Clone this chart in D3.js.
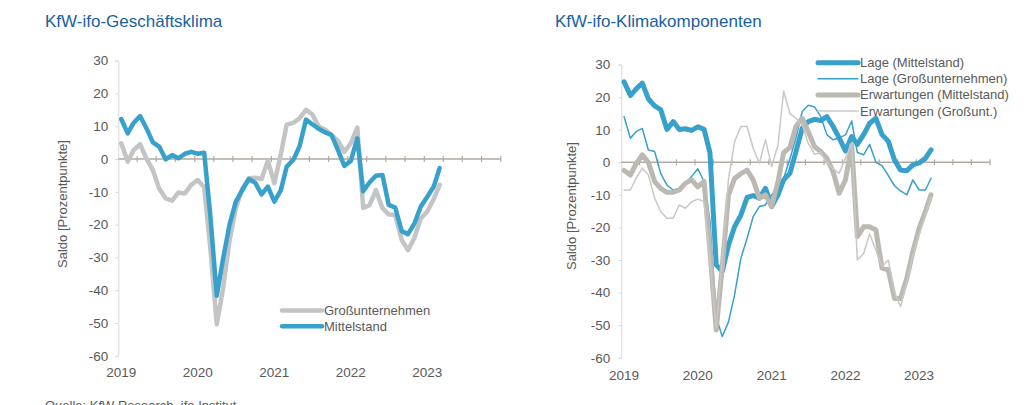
<!DOCTYPE html>
<html><head><meta charset="utf-8">
<script src="https://cdn.jsdelivr.net/npm/d3@7"></script>
<style>
html,body{margin:0;padding:0;background:#fff;}
svg{display:block;font-family:"Liberation Sans",Arial,sans-serif;}
</style></head>
<body>
<svg id="c" width="1024" height="405"></svg>
<script>
// ---------- Data (monthly, Jan 2019 – Mar 2023) ----------
const startYear = 2019, nMonths = 51;
const yTicks = [30, 20, 10, 0, -10, -20, -30, -40, -50, -60];
const yearLabels = ["2019", "2020", "2021", "2022", "2023"];

// Left chart: KfW-ifo-Geschäftsklima
const klimaGross = [4.8,-0.8,2.7,4.5,0.2,-3.4,-9,-12,-12.7,-10.2,-10.5,-7.9,-6.4,-8.6,-27,-50.4,-39.5,-25,-15,-9,-5.9,-5.7,-6.1,-0.5,-7.4,1.5,10.5,11,12.4,15,13.6,9.9,8.9,7.3,5.5,2.2,4.8,9.6,-14.9,-14,-9.5,-15,-16.9,-17.1,-24.7,-27.8,-24,-18.1,-16,-12.2,-7.9];
const klimaMittel = [12.2,7.8,11,13.1,9.4,5.1,3.8,-0.1,1.2,0.2,1.6,2.2,1.6,1.9,-17,-41.7,-30.5,-20,-13,-9.5,-6.1,-7.2,-10.8,-8.4,-13,-9.5,-2.3,-0.3,3.8,12,10.6,9.2,8.1,7.3,2.7,-2.1,-0.6,6.3,-9.8,-7.1,-5.1,-4.9,-14,-14.8,-22,-22.9,-19.6,-14.5,-11.5,-8.4,-2.8];

// Right chart: KfW-ifo-Klimakomponenten
const lageMittel = [24.7,20.5,22.5,24.3,19.5,17.3,16.2,10.1,12.5,10.1,10.3,9.8,10.9,10.1,3,-31.5,-33.5,-25.4,-19.8,-16.2,-10.8,-10.2,-11,-8,-13.6,-10,-5.4,-3.4,3.3,10.5,12.5,13.2,12.8,14,11,7.5,3.5,7.9,5.5,8.5,12,13.5,8.5,6.5,0.7,-2.4,-2.6,-0.8,-0.2,1.2,3.8];
const lageGross = [14,7.4,9.4,10.4,3.8,3.3,-3.4,-7,-8.5,-8,-6.4,-4.4,-2,-5.9,-18,-47.5,-53.5,-49,-40.7,-29.5,-23.3,-16.7,-13.6,-13.1,-10,-7.5,-4.9,1,7.5,15.6,17.5,17,14,8.5,6.9,7.5,8.4,12.7,3,2.3,5.5,0,-1,-4,-7.2,-8.8,-10,-5.4,-8.5,-8.5,-4.9];
const erwMittel = [-2.5,-3.9,-0.5,2.3,0,-5.9,-8,-9.2,-9.2,-8.5,-6.4,-5.4,-7.5,-5.9,-27,-51.5,-32,-10,-5,-3.5,-2.4,-5.4,-11,-10,-13.6,-5.9,3,4.5,11,13.5,9.4,4.8,3.3,1.2,-2.9,-9.5,-5.4,5.3,-22.8,-19.8,-19.8,-20.8,-32.5,-33,-41.8,-41.8,-35.6,-27.4,-20.3,-15.1,-10];
const erwGross = [-8.5,-8.5,-4.9,-1.8,-3.9,-11,-15.1,-17.2,-17.2,-13.1,-14.1,-12.1,-11.3,-12.1,-30,-51,-30,-5,6.3,11,11,4.3,-0.3,6.9,-1.3,5.3,21.9,15,13.5,11.5,5.8,2.5,3,0,-2,-3.4,1.2,5.8,-30,-28,-22,-27,-32,-30,-40,-44.3,-36.6,-28.5,-22.3,-16.2,-10.5];

const months = d3.range(nMonths).map(i => new Date(startYear, i, 15));

// ---------- Styles ----------
const BLUE = "#37a0cb", GRAY_L = "#c2c4c6", GRAY_W = "#bcb8b2", GRAY_T = "#c8c8c8";
const TXT = "#595959", TITLE = "#1a5fa0";

const svg = d3.select("#c");
svg.append("rect").attr("width",1024).attr("height",405).attr("fill","#fff");

function drawChart(o) {
  const x = d3.scaleTime()
    .domain([new Date(startYear,0,1), new Date(startYear+5,0,1)])
    .range([o.x0, o.x1]);
  const y = d3.scaleLinear().domain([-60, 30]).range([o.yBottom, o.yTop]);
  const g = svg.append("g");

  // title
  g.append("text").attr("x", o.titleX).attr("y", 27)
    .attr("font-size", 17).attr("fill", TITLE).text(o.title);

  // y axis
  const ya = g.append("g").attr("transform", `translate(${o.x0},0)`)
    .call(d3.axisLeft(y).tickValues(yTicks).tickSize(3).tickPadding(o.tickPad).tickFormat(d3.format("d")));
  ya.select(".domain").attr("stroke", "#d9d9d9").attr("stroke-width", 1);
  ya.selectAll(".tick line").attr("stroke", "#d9d9d9");
  ya.selectAll(".tick text").attr("fill", TXT).attr("font-size", 13.5)
    .attr("font-family", '"Liberation Sans",Arial,sans-serif');
  // replace minus sign with hyphen like the reference
  ya.selectAll(".tick text").text(d => String(d));

  // y label
  g.append("text")
    .attr("transform", `translate(${o.yLabelX},${o.yLabelY}) rotate(-90)`)
    .attr("text-anchor", "middle").attr("font-size", 13).attr("fill", TXT)
    .text("Saldo [Prozentpunkte]");

  // zero line with quarterly ticks
  g.append("line").attr("x1", o.x0).attr("x2", o.x1)
    .attr("y1", y(0)).attr("y2", y(0))
    .attr("stroke", "#b3aaa2").attr("stroke-width", 1.5);
  const qt = d3.timeMonth.every(3).range(new Date(startYear,3,1), new Date(startYear+5,0,2));
  g.selectAll(null).data(qt).join("line")
    .attr("x1", d => x(d)).attr("x2", d => x(d))
    .attr("y1", y(0) - 3).attr("y2", y(0) + 3)
    .attr("stroke", "#b3aaa2").attr("stroke-width", 1.2);

  // x labels (years)
  g.selectAll(null).data(yearLabels).join("text")
    .attr("x", d => x(new Date(+d, 0, 15)))
    .attr("y", o.xLabelY)
    .attr("text-anchor", "middle").attr("font-size", 13.5).attr("fill", TXT)
    .text(d => d);

  // series
  const line = d3.line().x((d, i) => x(months[i])).y(d => y(d));
  o.series.forEach(s => {
    g.append("path").datum(s.values)
      .attr("d", line).attr("fill", "none")
      .attr("stroke", s.color).attr("stroke-width", s.width)
      .attr("stroke-linejoin", "round").attr("stroke-linecap", "round");
  });

  // legend
  const lg = g.append("g");
  o.legend.items.forEach((s, i) => {
    const yy = o.legend.y + i * o.legend.dy;
    lg.append("line").attr("x1", o.legend.x).attr("x2", o.legend.x + 40)
      .attr("y1", yy).attr("y2", yy)
      .attr("stroke", s.color).attr("stroke-width", s.width).attr("stroke-linecap", "round");
    lg.append("text").attr("x", o.legend.x + 42).attr("y", yy + 4.5)
      .attr("font-size", 13).attr("fill", TXT).text(s.name);
  });
}

const leftSeries = [
  {name: "Großunternehmen", values: klimaGross, color: GRAY_L, width: 4.5},
  {name: "Mittelstand", values: klimaMittel, color: BLUE, width: 4.5}
];
drawChart({
  title: "KfW-ifo-Geschäftsklima", titleX: 45,
  x0: 118.3, x1: 500.8, yTop: 60.6, yBottom: 355.8, tickPad: 7,
  yLabelX: 67, yLabelY: 204, xLabelY: 377,
  series: leftSeries,
  legend: {x: 282, y: 310.5, dy: 15.7, items: leftSeries}
});

const rightSeries = [
  {name: "Lage (Mittelstand)", values: lageMittel, color: BLUE, width: 5},
  {name: "Lage (Großunternehmen)", values: lageGross, color: BLUE, width: 1.5},
  {name: "Erwartungen (Mittelstand)", values: erwMittel, color: GRAY_W, width: 5},
  {name: "Erwartungen (Großunt.)", values: erwGross, color: GRAY_T, width: 1.5}
];
drawChart({
  title: "KfW-ifo-Klimakomponenten", titleX: 555,
  x0: 621.3, x1: 990, yTop: 64.6, yBottom: 357.7, tickPad: 8,
  yLabelX: 576, yLabelY: 206, xLabelY: 380,
  series: rightSeries,
  legend: {x: 818, y: 62.7, dy: 16.1, items: rightSeries}
});

// source note (cut off at bottom edge)
svg.append("text").attr("x", 45).attr("y", 410)
  .attr("font-size", 13).attr("fill", TXT)
  .text("Quelle: KfW Research, ifo Institut");
</script>
</body></html>
